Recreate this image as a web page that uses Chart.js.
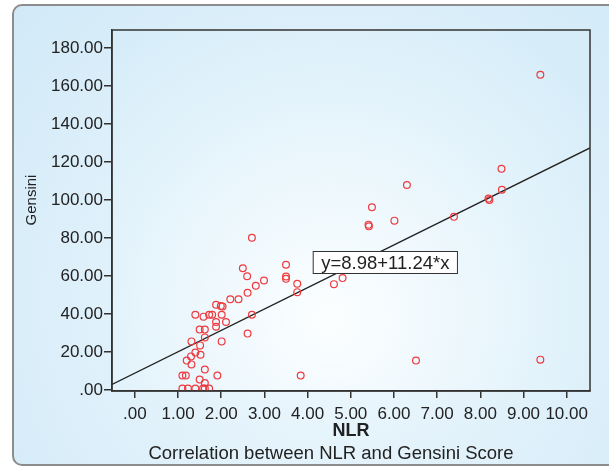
<!DOCTYPE html>
<html>
<head>
<meta charset="utf-8">
<script src="https://cdn.jsdelivr.net/npm/chart.js@4"></script>
<style>
	html, body {
		margin: 0;
		padding: 0;
		background: #ffffff;
	}

	#wrap {
		width: 609px;
		height: 473px;
	}
</style>
</head>
<body>
<div id="wrap">
	<canvas id="myChart" width="609" height="473"></canvas>
</div>
<script>
	// NLR (x) and Gensini score (y) for each patient
	const nlr = [
		9.39, 8.49, 8.50, 8.19, 8.21, 7.39, 6.30, 5.49, 6.01, 5.41, 5.42,
		2.71, 2.50, 2.60, 3.50, 3.50, 3.50, 3.76, 3.76, 2.99, 2.80, 2.61,
		4.61, 4.81, 2.21, 2.40, 1.88, 1.99, 2.03, 1.40, 1.59, 1.72, 1.79,
		2.01, 2.71, 1.88, 1.88, 2.11, 1.50, 1.62, 1.62, 2.61, 1.31, 2.01,
		1.51, 1.40, 1.52, 1.30, 1.20, 1.31, 1.62, 1.10, 1.18, 1.91, 3.84,
		1.50, 1.62, 1.10, 1.23, 1.40, 1.58, 1.62, 1.72, 6.51, 9.39
	];
	const gensini = [
		165.9, 116.5, 105.5, 100.8, 100.1, 91.2, 108.0, 96.2, 89.2, 87.1, 86.2,
		80.2, 64.2, 60.0, 66.0, 59.8, 58.6, 56.0, 51.6, 57.7, 55.0, 51.3,
		55.8, 59.0, 47.9, 47.8, 45.0, 44.3, 44.1, 39.7, 38.7, 39.7, 39.7,
		39.7, 39.7, 35.9, 33.4, 35.9, 31.9, 31.9, 27.8, 29.8, 25.7, 25.7,
		23.6, 19.8, 18.7, 17.8, 15.6, 13.6, 10.9, 7.7, 7.7, 7.7, 7.7,
		5.6, 3.8, 0.9, 0.9, 0.9, 0.9, 0.9, 0.9, 15.6, 16.1
	];

	// fit line y = 8.98 + 11.24*x, end points at the plot edges
	const fitX = [-0.53, 10.54];
	const fitY = [3.02, 127.45];
	const fitLabel = 'y=8.98+11.24*x';
	const fitLabelAt = [5.80, 67.2];

	const xTicks = [0, 1, 2, 3, 4, 5, 6, 7, 8, 9, 10];
	const yTicks = [0, 20, 40, 60, 80, 100, 120, 140, 160, 180];

	const yTitle = 'Gensini';
	const caption = 'Correlation between NLR and Gensini Score';

	const fontFamily = '"Liberation Sans", Arial, sans-serif';

	function spssLabel(v) {
		// SPSS style: .00, 1.00 ...
		let s = v.toFixed(2);
		if (s.indexOf('0.') === 0) s = s.substring(1);
		return s;
	}

	const points = nlr.map(function (x, i) {
		return { x: x, y: gensini[i] };
	});
	const fitPoints = fitX.map(function (x, i) {
		return { x: x, y: fitY[i] };
	});

	const backdrop = {
		id: 'backdrop',
		beforeDraw(chart) {
			const ctx = chart.ctx;
			const area = chart.chartArea;
			ctx.save();
			ctx.fillStyle = '#ffffff';
			ctx.fillRect(0, 0, chart.width, chart.height);

			// outer panel
			let g = ctx.createRadialGradient(330, 300, 20, 330, 300, 420);
			g.addColorStop(0, '#eef8fd');
			g.addColorStop(1, '#d2eaf8');
			ctx.fillStyle = g;
			ctx.beginPath();
			ctx.roundRect(13, 5, chart.width + 20, 460, 9);
			ctx.fill();
			ctx.strokeStyle = '#8c8c8c';
			ctx.lineWidth = 2;
			ctx.stroke();

			// plot area
			g = ctx.createRadialGradient(330, 320, 10, 330, 300, 330);
			g.addColorStop(0, '#fbfeff');
			g.addColorStop(1, '#d6edf9');
			ctx.fillStyle = g;
			ctx.fillRect(area.left, area.top, area.right - area.left, area.bottom - area.top);
			ctx.restore();
		},
		afterDraw(chart) {
			const ctx = chart.ctx;
			const area = chart.chartArea;
			const xs = chart.scales.x;
			const ys = chart.scales.y;
			ctx.save();
			ctx.strokeStyle = '#333333';
			ctx.lineWidth = 1.5;
			ctx.strokeRect(area.left, area.top, area.right - area.left, area.bottom - area.top);

			// equation box
			ctx.font = '18.5px ' + fontFamily;
			const w = ctx.measureText(fitLabel).width + 16;
			const h = 22;
			const cx = xs.getPixelForValue(fitLabelAt[0]);
			const cy = ys.getPixelForValue(fitLabelAt[1]);
			ctx.fillStyle = '#ffffff';
			ctx.fillRect(cx - w / 2, cy - h / 2, w, h);
			ctx.lineWidth = 1;
			ctx.strokeStyle = '#333333';
			ctx.strokeRect(cx - w / 2, cy - h / 2, w, h);
			ctx.fillStyle = '#222222';
			ctx.textAlign = 'center';
			ctx.textBaseline = 'middle';
			ctx.fillText(fitLabel, cx, cy + 1);

			// y axis title
			ctx.save();
			ctx.translate(32, 200);
			ctx.rotate(-Math.PI / 2);
			ctx.font = '15px ' + fontFamily;
			ctx.fillText(yTitle, 0, 0);
			ctx.restore();

			// caption under the axis
			ctx.font = '18.5px ' + fontFamily;
			ctx.fillText(caption, 331, 454);
			ctx.restore();
		}
	};

	const config = {
		type: 'scatter',
		data: {
			datasets: [{
				label: 'Gensini',
				data: points,
				pointStyle: 'circle',
				pointRadius: 3.4,
				pointHoverRadius: 3.4,
				borderWidth: 1.2,
				borderColor: '#ee3a3f',
				backgroundColor: 'rgba(0,0,0,0)'
			}, {
				label: 'Fit',
				type: 'line',
				data: fitPoints,
				borderColor: '#222222',
				borderWidth: 1.3,
				pointRadius: 0,
				fill: false
			}]
		},
		options: {
			responsive: false,
			animation: false,
			layout: {
				padding: { left: 20, top: 30, right: 19, bottom: 31 }
			},
			plugins: {
				legend: { display: false },
				tooltip: { enabled: false }
			},
			scales: {
				x: {
					type: 'linear',
					min: -0.53,
					max: 10.54,
					afterBuildTicks: function (scale) {
						scale.ticks = xTicks.map(function (v) { return { value: v }; });
					},
					afterFit: function (scale) {
						scale.height = 51;
					},
					grid: {
						drawOnChartArea: false,
						drawTicks: true,
						tickLength: 7,
						color: '#333333',
						lineWidth: 1.5
					},
					border: { display: true, color: '#333333', width: 1.5 },
					ticks: {
						padding: 6,
						color: '#222222',
						font: { size: 17, family: fontFamily },
						maxRotation: 0,
						autoSkip: false,
						callback: function (v) { return spssLabel(v); }
					},
					title: {
						display: true,
						text: 'NLR',
						color: '#222222',
						font: { size: 18, weight: 'bold', family: fontFamily },
						padding: { top: 0, bottom: 0 }
					}
				},
				y: {
					type: 'linear',
					min: -0.4,
					max: 189.5,
					afterBuildTicks: function (scale) {
						scale.ticks = yTicks.map(function (v) { return { value: v }; });
					},
					afterFit: function (scale) {
						scale.width = 92;
					},
					grid: {
						drawOnChartArea: false,
						drawTicks: true,
						tickLength: 8,
						color: '#333333',
						lineWidth: 1.5
					},
					border: { display: true, color: '#333333', width: 1.5 },
					ticks: {
						padding: 1,
						color: '#222222',
						font: { size: 17, family: fontFamily },
						autoSkip: false,
						callback: function (v) { return spssLabel(v); }
					}
				}
			}
		},
		plugins: [backdrop]
	};

	const myChart = new Chart(
		document.getElementById('myChart'),
		config
	);
</script>
</body>
</html>
